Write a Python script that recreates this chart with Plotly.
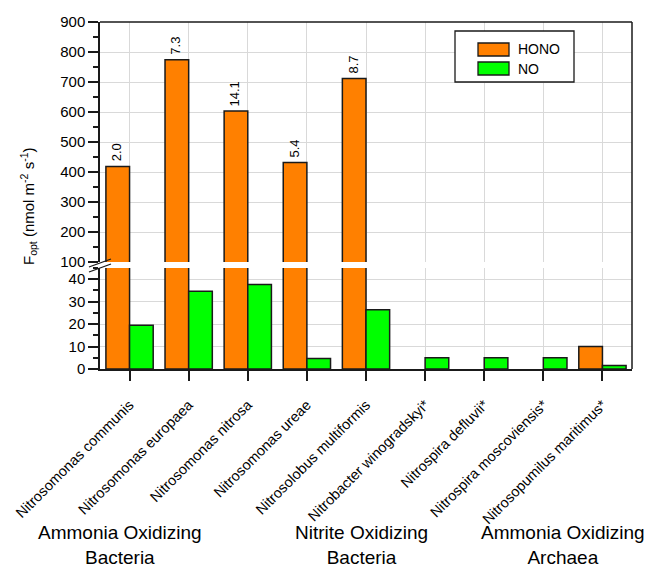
import plotly.graph_objects as go

# Optimal flux (nmol m^-2 s^-1) for each strain
species = [
    "Nitrosomonas communis",
    "Nitrosomonas europaea",
    "Nitrosomonas nitrosa",
    "Nitrosomonas ureae",
    "Nitrosolobus multiformis",
    "Nitrobacter winogradskyi*",
    "Nitrospira defluvii*",
    "Nitrospira moscoviensis*",
    "Nitrosopumilus maritimus*",
]
hono = [418, 774, 603, 432, 712, None, None, None, 10]
no = [19.5, 34.6, 37.6, 4.7, 26.4, 5.0, 5.0, 5.0, 1.6]
hono_labels = ["2.0", "7.3", "14.1", "5.4", "8.7", "", "", "", ""]

groups = ["Ammonia Oxidizing", "Nitrite Oxidizing", "Ammonia Oxidizing"]
group_sub = ["Bacteria", "Bacteria", "Archaea"]

ORANGE = "#FF8000"
GREEN = "#00FF00"
EDGE = "#1a1a1a"
GRID = "#d9d9d9"
FONT = "Liberation Sans, Arial, sans-serif"

W, H = 645, 568
L, R, T, B = 100, 13, 22, 199
PW, PH = W - L - R, H - T - B


def px(xp):
    return (xp - L) / PW


def py(yp):
    return (H - B - yp) / PH


upper_dom = [py(262), 1.0]
lower_dom = [0.0, py(268)]

fig = go.Figure()

bar_line = dict(color=EDGE, width=1.5)
# upper (broken-axis top part) and lower panels share the category axis
for yax in ("y2", "y"):
    fig.add_trace(go.Bar(
        x=species, y=hono, name="HONO", xaxis="x", yaxis=yax,
        marker=dict(color=ORANGE, line=bar_line),
        showlegend=False,
    ))
    fig.add_trace(go.Bar(
        x=species, y=no, name="NO", xaxis="x", yaxis=yax,
        marker=dict(color=GREEN, line=bar_line),
        showlegend=False,
    ))

axis_common = dict(
    showline=True, linecolor=EDGE, linewidth=1.5,
    ticks="outside", ticklen=10, tickwidth=1.5, tickcolor=EDGE,
    gridcolor=GRID, gridwidth=1,
    tickfont=dict(size=15, color="black", family=FONT),
    zeroline=False, automargin=False,
)

fig.update_layout(
    width=W, height=H,
    margin=dict(l=L, r=R, t=T, b=B, autoexpand=False),
    paper_bgcolor="white", plot_bgcolor="white",
    font=dict(family=FONT, color="black"),
    barmode="group", bargap=0.2, bargroupgap=0,
    xaxis=dict(
        axis_common, domain=[0, 1], anchor="y", type="category",
        range=[-0.5, len(species) - 0.5],
        tickangle=-45, showgrid=True, ticklabelstandoff=10,
        tickfont=dict(size=14.5, color="black", family=FONT),
    ),
    yaxis=dict(
        axis_common, domain=lower_dom, anchor="x", range=[0, 45],
        tick0=0, dtick=10, showgrid=True,
        minor=dict(dtick=5, ticks="outside", ticklen=5, tickwidth=1.5,
                   tickcolor=EDGE, showgrid=False),
    ),
    yaxis2=dict(
        axis_common, domain=upper_dom, anchor="x", range=[100, 900],
        tick0=0, dtick=100, showgrid=True,
        minor=dict(dtick=50, ticks="outside", ticklen=5, tickwidth=1.5,
                   tickcolor=EDGE, showgrid=False),
    ),
)

shapes = [
    # right and top frame
    dict(type="line", xref="paper", yref="paper", x0=1, x1=1, y0=0, y1=1,
         line=dict(color=EDGE, width=1.5)),
    dict(type="line", xref="paper", yref="paper", x0=0, x1=1, y0=1, y1=1,
         line=dict(color=EDGE, width=1.5)),
    # axis break marks
    dict(type="line", xref="paper", yref="paper",
         x0=px(89), y0=py(267), x1=px(111), y1=py(259),
         line=dict(color=EDGE, width=1.3)),
    dict(type="line", xref="paper", yref="paper",
         x0=px(89), y0=py(272), x1=px(111), y1=py(264),
         line=dict(color=EDGE, width=1.3)),
    # legend box and swatches
    dict(type="rect", xref="paper", yref="paper",
         x0=px(455), x1=px(574), y0=py(82), y1=py(31),
         line=dict(color=EDGE, width=1.3), fillcolor="white"),
    dict(type="rect", xref="paper", yref="paper",
         x0=px(478), x1=px(509), y0=py(56), y1=py(43),
         line=dict(color=EDGE, width=1.3), fillcolor=ORANGE),
    dict(type="rect", xref="paper", yref="paper",
         x0=px(478), x1=px(509), y0=py(75), y1=py(62),
         line=dict(color=EDGE, width=1.3), fillcolor=GREEN),
]

annotations = [
    dict(text="HONO", xref="paper", yref="paper", x=px(516), y=py(49.5),
         xanchor="left", yanchor="middle", showarrow=False,
         font=dict(size=14, color="black", family=FONT)),
    dict(text="NO", xref="paper", yref="paper", x=px(516), y=py(68.5),
         xanchor="left", yanchor="middle", showarrow=False,
         font=dict(size=14, color="black", family=FONT)),
    dict(text="F<sub>opt</sub> (nmol m<sup>-2</sup> s<sup>-1</sup>)",
         xref="paper", yref="paper", x=px(28), y=py(207),
         xanchor="center", yanchor="middle", textangle=-90, showarrow=False,
         font=dict(size=15, color="black", family=FONT)),
]

# value labels above the HONO bars, placed at each bar's own value
n_cat = len(species)
for i, (lab, val) in enumerate(zip(hono_labels, hono)):
    if not lab or val is None:
        continue
    annotations.append(dict(
        text=lab, xref="x", yref="y2", x=i, y=val,
        xshift=-0.4 * PW / n_cat / 2 - 1, yshift=3,
        xanchor="center", yanchor="bottom", textangle=-90, showarrow=False,
        font=dict(size=13, color="black", family=FONT),
    ))

# organism group captions under the category labels
group_x = [120, 361, 563]
for gx, g1, g2 in zip(group_x, groups, group_sub):
    annotations.append(dict(text=f"{g1}<br>{g2}", xref="paper", yref="paper",
                            x=px(gx), y=py(569.5),
                            xanchor="center", yanchor="bottom", showarrow=False,
                            font=dict(size=19, color="black", family=FONT)))

fig.update_layout(shapes=shapes, annotations=annotations)

fig.write_html("out.html")
